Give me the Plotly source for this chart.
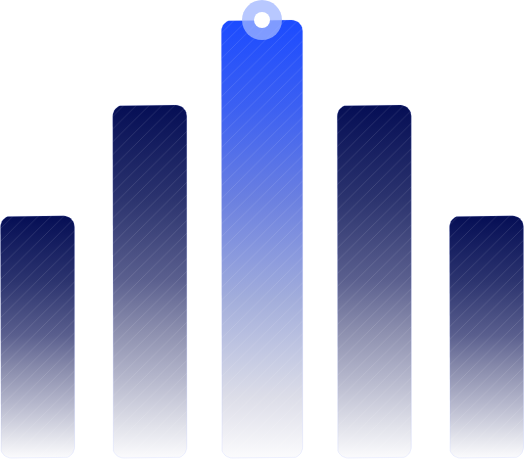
import numpy as np
import plotly.graph_objects as go

# data
categories = ["A", "B", "C", "D", "E"]
values = [55.3, 80.6, 100, 80.6, 55.3]
highlight = "C"

W, H = 524, 462
x_range = [-0.334, 4.334]
y_range = [-0.91, 104.57]
px_x = W / (x_range[1] - x_range[0])
px_y = H / (y_range[1] - y_range[0])

dark_scale = [[0, "#fbfbfd"], [0.085, "#e2e3eb"], [0.225, "#b5b7cc"], [0.366, "#8a8dad"],
              [0.507, "#5a5f8e"], [0.73, "#2c346f"], [1, "#050e55"]]
blue_scale = [[0, "#fbfbfd"], [0.14, "#dcdde8"], [0.36, "#a3aedb"], [0.59, "#6b80e0"],
              [0.8, "#3c60f2"], [1, "#1c4bff"]]


def rounded_bar(xc, half, top, r_px=11, n=10):
    rx, ry = r_px / px_x, r_px / px_y
    xs, ys = [], []
    corners = [(xc + half - rx, top - ry, 0), (xc - half + rx, top - ry, 90),
               (xc - half + rx, 0 + ry, 180), (xc + half - rx, 0 + ry, 270)]
    for cx, cy, a0 in corners:
        t = np.radians(np.linspace(a0, a0 + 90, n))
        xs += list(cx + rx * np.cos(t))
        ys += list(cy + ry * np.sin(t))
    xs.append(xs[0])
    ys.append(ys[0])
    return xs, ys


fig = go.Figure()
for i, (cat, v) in enumerate(zip(categories, values)):
    hot = cat == highlight
    half = 0.362 if hot else 0.33
    xs, ys = rounded_bar(i, half, v)
    fig.add_trace(go.Scatter(x=xs, y=ys, mode="lines", fill="toself", line=dict(width=0),
                             fillgradient=dict(type="vertical", colorscale=blue_scale if hot else dark_scale),
                             hoverinfo="skip", showlegend=False))
    fig.add_trace(go.Scatter(x=xs, y=ys, mode="lines", fill="toself", fillcolor="rgba(0,0,0,0)",
                             line=dict(width=1, color="rgba(150,170,255,0.16)"),
                             fillpattern=dict(shape="/", size=9, solidity=0.1, fgcolor="white",
                                              fgopacity=0.12, bgcolor="rgba(0,0,0,0)"),
                             hoverinfo="skip", showlegend=False))

# highlighted point marker
hi = categories.index(highlight)
fig.add_trace(go.Scatter(x=[hi], y=[values[hi]], mode="markers",
                         marker=dict(size=40, color="rgba(160,181,255,0.75)", line=dict(width=0)),
                         hoverinfo="skip", showlegend=False))
fig.add_trace(go.Scatter(x=[hi], y=[values[hi]], mode="markers",
                         marker=dict(size=16, color="white", line=dict(width=0)),
                         hoverinfo="skip", showlegend=False))

fig.update_layout(width=W, height=H, margin=dict(l=0, r=0, t=0, b=0),
                  plot_bgcolor="white", paper_bgcolor="white")
fig.update_xaxes(range=x_range, visible=False, fixedrange=True)
fig.update_yaxes(range=y_range, visible=False, fixedrange=True)
fig.write_html("out.html", config={"displayModeBar": False},
               post_script="document.body.style.margin='0';")
